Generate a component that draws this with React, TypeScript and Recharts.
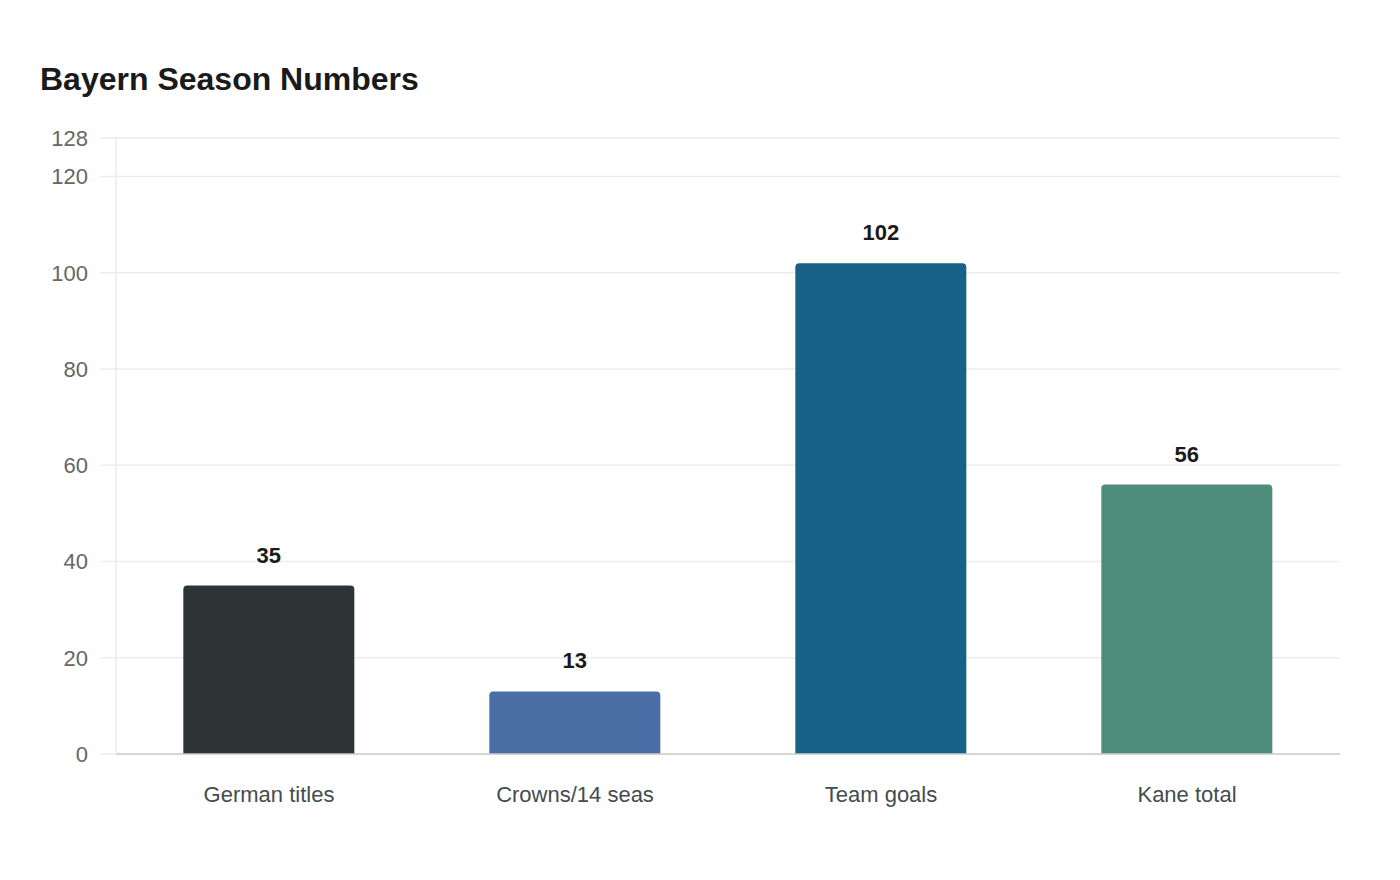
import { BarChart, Bar, XAxis, YAxis, CartesianGrid, LabelList, Cell } from "recharts";

const categories = ["German titles", "Crowns/14 seas", "Team goals", "Kane total"];
const values = [35, 13, 102, 56];
const barColors = ["#2d3436", "#4a6ea5", "#186187", "#4e8c7b"];
const yTicks = [0, 20, 40, 60, 80, 100, 120, 128];

const chartData = categories.map((label, i) => ({ label, value: values[i] }));

const font = "'Liberation Sans', Arial, sans-serif";

export default function App() {
  return (
    <div style={{ position: "relative", width: 1384, height: 864, fontFamily: font, background: "#fff" }}>
      <div
        style={{
          position: "absolute",
          left: 32,
          top: 55,
          fontSize: 32,
          fontWeight: 700,
          color: "#1a1a1a",
          lineHeight: 1,
        }}
      >
        Bayern Season Numbers
      </div>
      <BarChart
        width={1384}
        height={864}
        data={chartData}
        margin={{ top: 130, right: 52, left: 0, bottom: 58 }}
        barCategoryGap="22%"
      >
        <CartesianGrid vertical={false} stroke="#ececec" strokeWidth={1.5} />
        <XAxis
          dataKey="label"
          height={60}
          tickSize={0}
          tickMargin={32}
          tick={{ fontSize: 22, fill: "#444c4e", fontFamily: font }}
          axisLine={{ stroke: "#cccccc", strokeWidth: 1.5 }}
          tickLine={false}
        />
        <YAxis
          width={108}
          domain={[0, 128]}
          ticks={yTicks}
          interval={0}
          tickSize={16}
          tickMargin={12}
          tick={{ fontSize: 22, fill: "#666666", fontFamily: font }}
          axisLine={{ stroke: "#e2e2e2", strokeWidth: 1 }}
          tickLine={{ stroke: "#ececec", strokeWidth: 1.5 }}
        />
        <Bar dataKey="value" radius={[4, 4, 0, 0]} isAnimationActive={false}>
          {chartData.map((d, i) => (
            <Cell key={d.label} fill={barColors[i]} />
          ))}
          <LabelList
            dataKey="value"
            position="top"
            offset={23}
            style={{ fontSize: 22, fontWeight: 700, fill: "#1a1a1a", fontFamily: font }}
          />
        </Bar>
      </BarChart>
    </div>
  );
}
